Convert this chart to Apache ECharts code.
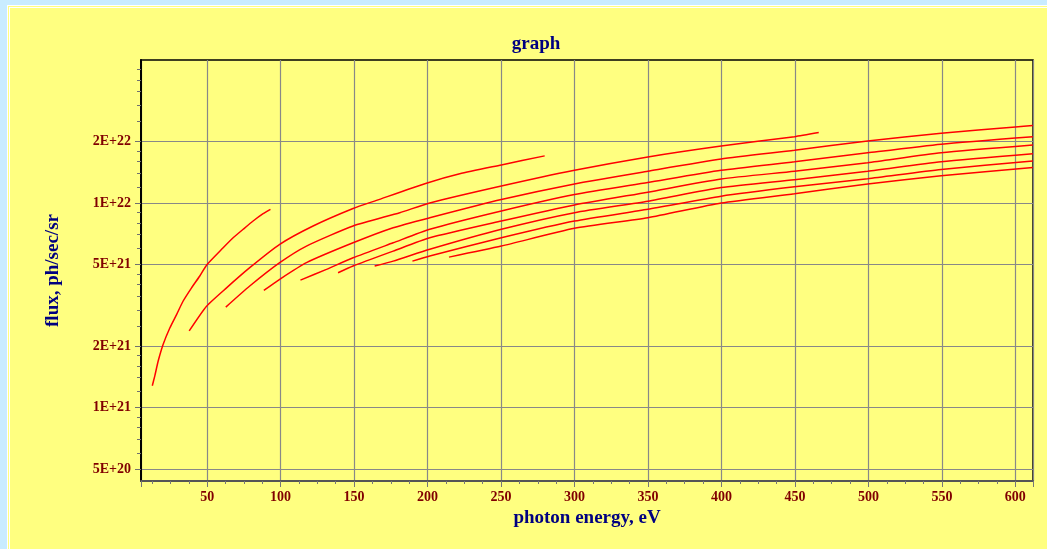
<!DOCTYPE html>
<html>
<head>
<meta charset="utf-8">
<script src="https://cdn.jsdelivr.net/npm/echarts@6/dist/echarts.min.js"></script>
<style>
	html, body { margin: 0; padding: 0; background: #c9ecff; width: 1047px; height: 549px; overflow: hidden; }
	#panel { position: absolute; left: 7px; top: 5px; width: 1100px; height: 600px; background: #ffff80; border: 3px double #ffffff; }
	#main { position: absolute; left: 0; top: 0; width: 1047px; height: 549px; }
</style>
</head>
<body>
<div id="panel"></div>
<div id="main"></div>
<script>
	// photon energy (eV), flux (ph/sec/sr), one array per harmonic
	var h1 = [ [ 12.7, 1.28e21 ], [ 14.4, 1.43e21 ], [ 16.7, 1.69e21 ], [ 20.1, 2.04e21 ], [ 24.6, 2.45e21 ], [ 29.2, 2.85e21 ], [ 33.7, 3.32e21 ], [ 39.4, 3.85e21 ], [ 45.0, 4.40e21 ], [ 49.6, 4.97e21 ], [ 60.9, 6.04e21 ], [ 67.7, 6.76e21 ], [ 74.5, 7.44e21 ], [ 81.3, 8.17e21 ], [ 88.1, 8.87e21 ], [ 93.1, 9.32e21 ] ];
	var h3 = [ [ 37.8, 2.37e21 ], [ 49.6, 3.13e21 ], [ 63.2, 3.85e21 ], [ 79.0, 4.83e21 ], [ 99.4, 6.28e21 ], [ 122.1, 7.72e21 ], [ 149.3, 9.40e21 ], [ 165.2, 1.03e22 ], [ 199.2, 1.25e22 ], [ 221.9, 1.39e22 ], [ 250.2, 1.535e22 ], [ 279.7, 1.70e22 ] ];
	var h5 = [ [ 62.7, 3.10e21 ], [ 79.0, 3.93e21 ], [ 99.4, 5.11e21 ], [ 117.6, 6.16e21 ], [ 149.3, 7.72e21 ], [ 181.1, 8.97e21 ], [ 201.5, 1.00e22 ], [ 250.2, 1.21e22 ], [ 300, 1.445e22 ], [ 349.9, 1.68e22 ], [ 399.8, 1.90e22 ], [ 449.7, 2.11e22 ], [ 466.2, 2.21e22 ] ];
	var h7 = [ [ 88.6, 3.74e21 ], [ 99.4, 4.24e21 ], [ 117.6, 5.11e21 ], [ 149.3, 6.39e21 ], [ 176.6, 7.57e21 ], [ 201.5, 8.47e21 ], [ 250.2, 1.04e22 ], [ 300, 1.24e22 ], [ 349.9, 1.43e22 ], [ 399.8, 1.64e22 ], [ 449.7, 1.81e22 ], [ 499.5, 2.01e22 ], [ 549.5, 2.19e22 ], [ 600, 2.355e22 ], [ 611.9, 2.39e22 ] ];
	var h9 = [ [ 113.5, 4.20e21 ], [ 131.2, 4.74e21 ], [ 149.3, 5.40e21 ], [ 176.6, 6.39e21 ], [ 201.5, 7.44e21 ], [ 250.2, 9.14e21 ], [ 300, 1.10e22 ], [ 349.9, 1.26e22 ], [ 399.8, 1.445e22 ], [ 449.7, 1.59e22 ], [ 499.5, 1.76e22 ], [ 549.5, 1.94e22 ], [ 611.9, 2.11e22 ] ];
	var h11 = [ [ 139.1, 4.56e21 ], [ 149.3, 4.92e21 ], [ 176.6, 5.82e21 ], [ 201.5, 6.76e21 ], [ 250.2, 8.16e21 ], [ 300, 9.78e21 ], [ 349.9, 1.13e22 ], [ 399.8, 1.31e22 ], [ 449.7, 1.43e22 ], [ 499.5, 1.575e22 ], [ 549.5, 1.76e22 ], [ 611.9, 1.92e22 ] ];
	var h13 = [ [ 164.0, 4.92e21 ], [ 176.6, 5.20e21 ], [ 201.5, 5.94e21 ], [ 250.2, 7.44e21 ], [ 300, 8.97e21 ], [ 349.9, 1.02e22 ], [ 399.8, 1.19e22 ], [ 449.7, 1.30e22 ], [ 499.5, 1.43e22 ], [ 549.5, 1.59e22 ], [ 611.9, 1.74e22 ] ];
	var h15 = [ [ 189.7, 5.20e21 ], [ 201.5, 5.51e21 ], [ 250.2, 6.76e21 ], [ 300, 8.16e21 ], [ 349.9, 9.32e21 ], [ 399.8, 1.08e22 ], [ 449.7, 1.20e22 ], [ 499.5, 1.315e22 ], [ 549.5, 1.46e22 ], [ 611.9, 1.605e22 ] ];
	var h17 = [ [ 214.6, 5.44e21 ], [ 250.2, 6.16e21 ], [ 300, 7.52e21 ], [ 349.9, 8.47e21 ], [ 399.8, 1.00e22 ], [ 449.7, 1.11e22 ], [ 499.5, 1.24e22 ], [ 549.5, 1.36e22 ], [ 611.9, 1.49e22 ] ];

	// labelled flux values and the small ticks between them
	var yTicks = [ 5e20, 1e21, 2e21, 5e21, 1e22, 2e22 ];
	var yMinorTicks = [ 6e20, 7e20, 8e20, 9e20, 1.2e21, 1.4e21, 1.6e21, 1.8e21, 2.5e21, 3e21, 3.5e21, 4e21, 4.5e21, 6e21, 7e21, 8e21, 9e21, 1.2e22, 1.4e22, 1.6e22, 1.8e22, 2.5e22, 3e22, 3.5e22, 4e22, 4.5e22 ];

	var serif = 'Liberation Serif';
	var labelColor = '#800000';
	var nameColor = '#000080';

	function expFormat(v) {
		var e = Math.floor(Math.log10(v) + 1e-9);
		var m = Math.round(v / Math.pow(10, e));
		return m + 'E+' + e;
	}

	var harmonics = [ h1, h3, h5, h7, h9, h11, h13, h15, h17 ];
	var series = [];
	harmonics.forEach(function(data, i) {
		series.push({
			name : 'h' + (2 * i + 1),
			type : 'line',
			data : data,
			showSymbol : false,
			smooth : 0.2,
			lineStyle : {
				color : '#ff0000',
				width : 1.5
			}
		});
	});

	var chart = echarts.init(document.getElementById('main'));
	var options = {
		animation : false,
		backgroundColor : 'transparent',
		title : {
			text : 'graph',
			left : 531,
			top : 30,
			textAlign : 'center',
			textStyle : {
				fontFamily : serif,
				fontWeight : 'bold',
				fontSize : 19,
				color : nameColor
			}
		},
		grid : {
			left : 141,
			right : 14,
			top : 60,
			bottom : 68,
			show : true,
			borderColor : '#000',
			borderWidth : 1.5
		},
		xAxis : {
			type : 'value',
			min : 5,
			max : 612,
			splitNumber : 12,
			minInterval : 50,
			maxInterval : 50,
			name : 'photon energy, eV',
			nameLocation : 'middle',
			nameGap : 27,
			nameTextStyle : {
				fontFamily : serif,
				fontWeight : 'bold',
				fontSize : 19,
				color : nameColor
			},
			axisLine : {
				onZero : false,
				lineStyle : {
					color : '#555',
					width : 2
				}
			},
			axisTick : {
				length : 6,
				lineStyle : {
					color : '#777'
				}
			},
			minorTick : {
				show : true,
				splitNumber : 4,
				length : 3,
				lineStyle : {
					color : '#777'
				}
			},
			axisLabel : {
				showMinLabel : false,
				showMaxLabel : false,
				margin : 9,
				fontFamily : serif,
				fontWeight : 'bold',
				fontSize : 14,
				color : labelColor
			},
			splitLine : {
				lineStyle : {
					color : '#888',
					width : 1.2
				}
			}
		},
		yAxis : [ {
			type : 'log',
			logBase : 10,
			min : 4.38e20,
			max : 5e22,
			name : 'flux, ph/sec/sr',
			nameLocation : 'middle',
			nameGap : 78,
			nameTextStyle : {
				fontFamily : serif,
				fontWeight : 'bold',
				fontSize : 19,
				color : nameColor
			},
			axisLine : {
				show : true,
				lineStyle : {
					color : '#000',
					width : 2
				}
			},
			axisTick : {
				show : true,
				length : 6,
				customValues : yTicks,
				lineStyle : {
					color : '#707070'
				}
			},
			axisLabel : {
				customValues : yTicks,
				formatter : expFormat,
				margin : 10,
				fontFamily : serif,
				fontWeight : 'bold',
				fontSize : 14,
				color : labelColor
			},
			splitLine : {
				show : true,
				lineStyle : {
					color : '#888',
					width : 1.2
				}
			}
		}, {
			// only carries the small ticks of the left axis
			type : 'log',
			logBase : 10,
			min : 4.38e20,
			max : 5e22,
			position : 'left',
			axisLine : {
				show : false
			},
			axisTick : {
				show : true,
				length : 4,
				customValues : yMinorTicks,
				lineStyle : {
					color : '#707070'
				}
			},
			axisLabel : {
				show : false
			},
			splitLine : {
				show : false
			}
		} ],
		series : series
	};
	chart.setOption(options);
</script>
</body>
</html>
